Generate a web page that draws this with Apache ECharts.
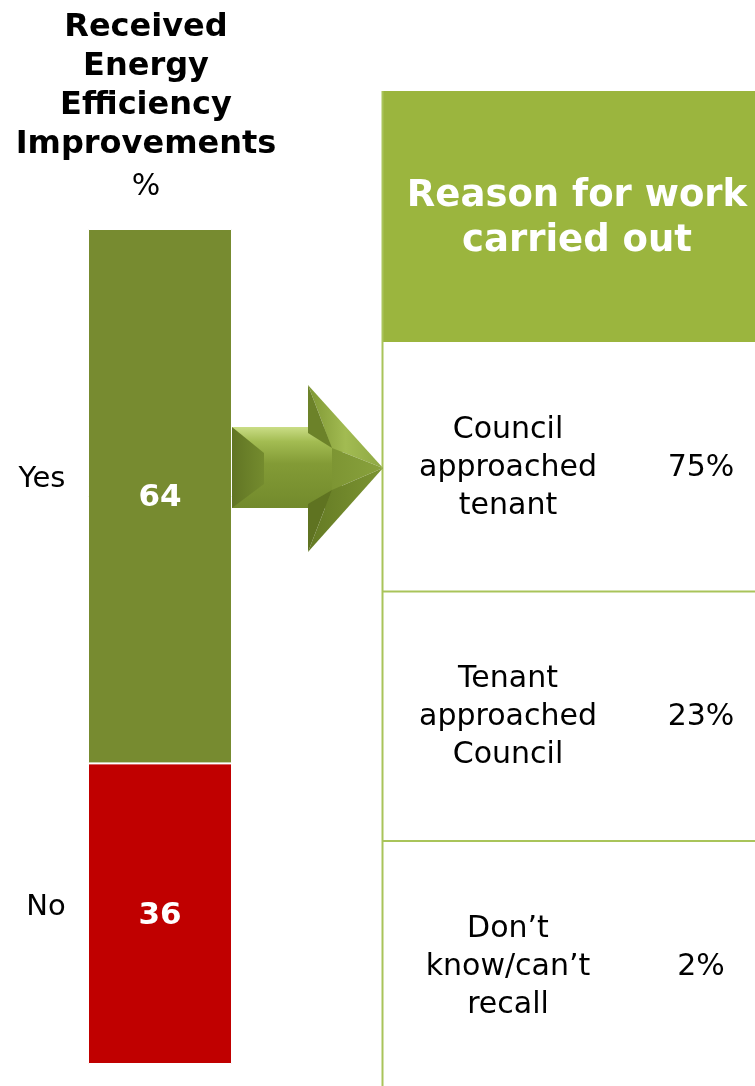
<!DOCTYPE html>
<html>
<head>
<meta charset="utf-8">
<script src="https://cdn.jsdelivr.net/npm/echarts@6/dist/echarts.min.js"></script>
<style>
  html, body { margin: 0; padding: 0; background: #fff; }
  #chart { width: 755px; height: 1086px; }
</style>
</head>
<body>
<div id="chart"></div>
<script>
// Share of tenants who received energy efficiency improvements (%)
const answers = ['Yes', 'No'];
const answerValues = [64, 36];
const answerColors = ['#778B30', '#C00000'];

// Reason the work was carried out (among those who received it)
const reasons = ['Council\napproached\ntenant', 'Tenant\napproached\nCouncil', 'Don\u2019t\nknow/can\u2019t\nrecall'];
const reasonShares = [75, 23, 2];

const FONT = '"DejaVu Sans", Verdana, sans-serif';
const chart = echarts.init(document.getElementById('chart'), null, { renderer: 'canvas' });

const barSeries = answers.map((name, i) => ({
  name: name,
  type: 'bar',
  stack: 'answers',
  barWidth: '100%',
  data: [answerValues[i]],
  itemStyle: { color: answerColors[i], borderColor: '#ffffff', borderWidth: 1 },
  label: {
    show: true, position: 'inside', formatter: '{c}', offset: [0, 2],
    color: '#ffffff', fontFamily: FONT, fontWeight: 'bold', fontSize: 31
  }
}));

chart.setOption({
  animation: false,
  backgroundColor: '#ffffff',
  grid: { left: 88, top: 229, width: 144, bottom: 22 },
  xAxis: { type: 'category', data: [''], show: false },
  yAxis: { type: 'value', min: 0, max: 100, inverse: true, show: false },
  series: barSeries
});

// Table / annotation geometry
const tblLeft = 382, tblRight = 755, hdrTop = 91, hdrBottom = 342, rowH = 249.5;
const labelX = 508, shareX = 701;
const green = '#9BB53E', lineGreen = '#A9C45A';

const g = [];
const txt = (x, y, text, size, extra) => Object.assign({
  type: 'text', x: x, y: y,
  style: Object.assign({
    text: text, fontFamily: FONT, fontSize: size, fill: '#000',
    align: 'center', verticalAlign: 'middle'
  }, extra || {})
});

// Titles above the bar
g.push(txt(146, 86, 'Received\nEnergy\nEfficiency\nImprovements', 32, { fontWeight: 'bold', lineHeight: 39 }));
g.push(txt(146, 187, '%', 30));

// Category names to the left of each segment, positioned from the data
const nameShift = [-17, -6];
let cum = 0;
answers.forEach((name, i) => {
  const mid = cum + answerValues[i] / 2;
  cum += answerValues[i];
  const p = chart.convertToPixel({ gridIndex: 0 }, [0, mid]);
  g.push(txt(i === 0 ? 42 : 46, p[1] + nameShift[i], name, 29));
});

// Header of the reasons table
g.push({ type: 'rect', shape: { x: tblLeft, y: hdrTop, width: tblRight - tblLeft + 10, height: hdrBottom - hdrTop }, style: { fill: green } });
g.push(txt(577, 219, 'Reason for work\ncarried out', 37, { fontWeight: 'bold', fill: '#fff', lineHeight: 45 }));

// Table borders and rows
g.push({ type: 'line', shape: { x1: tblLeft + 0.5, y1: hdrTop, x2: tblLeft + 0.5, y2: 1086 }, style: { stroke: lineGreen, lineWidth: 2 } });
reasons.forEach((r, i) => {
  const top = hdrBottom + i * rowH;
  if (i > 0) {
    g.push({ type: 'line', shape: { x1: tblLeft, y1: top, x2: tblRight, y2: top }, style: { stroke: lineGreen, lineWidth: 2 } });
  }
  const cy = top + 126;
  g.push(txt(labelX, cy, r, 30, { lineHeight: 38 }));
  g.push(txt(shareX, cy, reasonShares[i] + '%', 30));
});

// Bevelled arrow linking "Yes" to the reasons table
const ax0 = 232, shT = 427, shB = 508, hx = 308, hT = 385, hB = 552, tipX = 383, tipY = 468;
const vGrad = (c) => new echarts.graphic.LinearGradient(0, 0, 0, 1, c);
const hGrad = (c) => new echarts.graphic.LinearGradient(0, 0, 1, 0, c);
const poly = (pts, fill) => ({ type: 'polygon', shape: { points: pts }, style: { fill: fill } });
// shaft body
g.push(poly([[ax0, shT], [hx + 34, shT], [hx + 34, shB], [ax0, shB]],
  vGrad([{ offset: 0, color: '#cadd86' }, { offset: 0.18, color: '#a3bc52' }, { offset: 0.45, color: '#839b36' }, { offset: 1, color: '#728a2c' }])));
// left bevel of shaft
g.push(poly([[ax0, shT], [ax0 + 32, shT + 26], [ax0 + 32, shB - 24], [ax0, shB]],
  hGrad([{ offset: 0, color: '#617524' }, { offset: 1, color: '#748b2e' }])));
// head: top bevel, upper-left, front face, bottom bevel, lower-left
const hi = [hx + 24, 448], lo = [hx + 24, 490];
g.push(poly([[hx, hT], [tipX, tipY], hi],
  hGrad([{ offset: 0, color: '#7f9734' }, { offset: 0.5, color: '#a2bb52' }, { offset: 1, color: '#8ea843' }])));
g.push(poly([[hx, hT], hi, [hx, shT + 6]], '#6c8229'));
g.push(poly([hi, [tipX, tipY], lo], hGrad([{ offset: 0, color: '#7d9533' }, { offset: 1, color: '#89a23d' }])));
g.push(poly([[hx, hB], [tipX, tipY], lo],
  hGrad([{ offset: 0, color: '#647a24' }, { offset: 1, color: '#7c9432' }])));
g.push(poly([[hx, hB], lo, [hx, shB - 4]], '#5f7321'));

chart.setOption({ graphic: { elements: g } });
</script>
</body>
</html>
